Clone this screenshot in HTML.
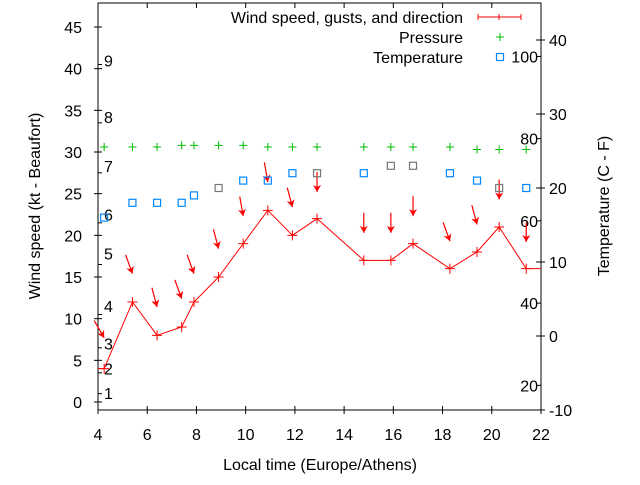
<!DOCTYPE html>
<html><head><meta charset="utf-8"><style>
body{margin:0;background:#fff}
text{font-family:"Liberation Sans",sans-serif;font-size:16px;fill:#000}
</style></head><body>
<svg id="c" width="640" height="480" xmlns="http://www.w3.org/2000/svg"></svg>
<script>
const times=[4.25,5.4,6.4,7.4,7.9,8.9,9.9,10.9,11.9,12.9,14.8,15.9,16.8,18.3,19.4,20.3,21.4];
const windSpeed=[4,12,8,9,12,15,19,23,20,22,17,17,19,16,18,21,16];
const gusts=[7.7,15.4,11.4,12.4,15.4,18.4,22.3,26.4,23.4,25.2,20.3,20.3,22.3,19.3,21.3,24.3,19.2];
const windDir=[330,340,345,340,340,345,350,350,345,0,0,0,0,340,345,0,0];
const pressure=[30.6,30.6,30.6,30.8,30.8,30.8,30.8,30.6,30.6,30.6,30.6,30.6,30.6,30.6,30.3,30.3,30.3];
const temperature=[16,18,18,18,19,20,21,21,22,22,22,23,23,22,21,20,20];
const xTicks=[4,6,8,10,12,14,16,18,20,22];
const yTicks=[0,5,10,15,20,25,30,35,40,45];
const y2Ticks=[-10,0,10,20,30,40];
const fTicks=[20,40,60,80,100];
const beaufortLabels=[1,2,3,4,5,6,7,8,9];
const beaufortKt=[1.1,4,7,11.5,17.8,22.5,28.3,34.2,41];
const beaufortBounds=[1,3.5,6.5,10.5,16.5,21.5,27.5,33.5,40.5];

const L=98,R=541,T=3,B=410;
const X=t=>L+(t-4)*(R-L)/18;
const Y=v=>402-v*375/45;
const Y2=c=>336-c*7.4;
const svg=document.getElementById('c');
const NS='http://www.w3.org/2000/svg';
function el(tag,attrs,parent){const e=document.createElementNS(NS,tag);for(const k in attrs)e.setAttribute(k,attrs[k]);(parent||svg).appendChild(e);return e;}
function txt(x,y,s,anchor,name,parent){const e=el('text',{x:x,y:y,'text-anchor':anchor||'start'},parent);e.textContent=s;return e;}

const fr=el('rect',{x:L,y:T,width:R-L,height:B-T,fill:'none',stroke:'#000','stroke-width':1});



xTicks.forEach(t=>{const x=X(t);
 const l=el('line',{x1:x,y1:B-4,x2:x,y2:B+4,stroke:'#000'});
 const l2=el('line',{x1:x,y1:T,x2:x,y2:T+5,stroke:'#000'});
 txt(x,440,String(t),'middle','x-tick-label');});
yTicks.forEach(v=>{const y=Y(v);
 const l=el('line',{x1:L-4,y1:y,x2:L+4,y2:y,stroke:'#000'});
 txt(82,y+6,String(v),'end','y-tick-label');});
y2Ticks.forEach(c=>{const y=Y2(c);
 const l=el('line',{x1:R-5,y1:y,x2:R+4,y2:y,stroke:'#000'});
 txt(549,y+6,String(c),'start','y2-tick-label');});
fTicks.forEach(f=>{const y=Y2((f-32)*5/9);
 const l=el('line',{x1:R-5,y1:y,x2:R,y2:y,stroke:'#000'});
 txt(538,y+6,String(f),'end','fahrenheit-label');});
beaufortLabels.forEach((b,i)=>{
 txt(104,Y(beaufortKt[i])+6,String(b),'start','beaufort-label');});
beaufortBounds.forEach(v=>{
 const l=el('line',{x1:L,y1:Y(v),x2:L+4,y2:Y(v),stroke:'#000'});});

txt(320,470,'Local time (Europe/Athens)','middle','x-axis-title');
const yt=txt(0,0,'Wind speed (kt - Beaufort)','middle','y-axis-title');yt.setAttribute('transform','translate(40,206) rotate(-90)');
const yt2=txt(0,0,'Temperature (C - F)','middle','y2-axis-title');yt2.setAttribute('transform','translate(609,206) rotate(-90)');

let d='M'+L+','+Y(windSpeed[0]);
times.forEach((t,i)=>{d+=' L'+X(t)+','+Y(windSpeed[i]);});
d+=' L'+R+','+Y(windSpeed[windSpeed.length-1]);
const wl=el('path',{d:d,fill:'none',stroke:'#f00','stroke-width':1});


times.forEach((t,i)=>{const x=X(t),y=Y(windSpeed[i]);
 const p=el('path',{d:`M${x-5},${y}H${x+5}M${x},${y-5}V${y+5}`,stroke:'#f00'});
 
 });
times.forEach((t,i)=>{const x=X(t),y=Y(gusts[i]);const a=windDir[i]*Math.PI/180;
 const dx=-Math.sin(a),dy=Math.cos(a);const len=20;
 const g=el('g',{});
 
 
 el('line',{x1:x-dx*len,y1:y-dy*len,x2:x,y2:y,stroke:'#f00','stroke-width':1.2},g);
 const px=-dy,py=dx;
 el('polygon',{points:`${x},${y} ${x-dx*7+px*4},${y-dy*7+py*4} ${x-dx*5},${y-dy*5} ${x-dx*7-px*4},${y-dy*7-py*4}`,fill:'#f00'},g);});
times.forEach((t,i)=>{const x=X(t),y=Y(pressure[i]);
 const p=el('path',{d:`M${x-4},${y}H${x+4}M${x},${y-4}V${y+4}`,stroke:'#0b0','stroke-width':1});
 
 });
const grayIdx=[5,9,11,12,15];
times.forEach((t,i)=>{const x=X(t),y=Y2(temperature[i]);
 const r=el('rect',{x:x-3.5,y:y-3.5,width:7,height:7,fill:'none',stroke:grayIdx.includes(i)?'#777':'#08f','stroke-width':1.2});
 
 });

const lg=el('g',{});


txt(463,23,'Wind speed, gusts, and direction','end','legend-wind-label',lg);
el('path',{d:'M478,17H521M478,14V20M521,14V20M499,14V20',stroke:'#f00'},lg);
txt(463,43,'Pressure','end','legend-pressure-label',lg);
el('path',{d:'M496,37H504M500,33V41',stroke:'#0b0'},lg);
txt(463,63,'Temperature','end','legend-temperature-label',lg);
el('rect',{x:496.5,y:53.5,width:7,height:7,fill:'none',stroke:'#08f','stroke-width':1.2},lg);
</script>
</body></html>
